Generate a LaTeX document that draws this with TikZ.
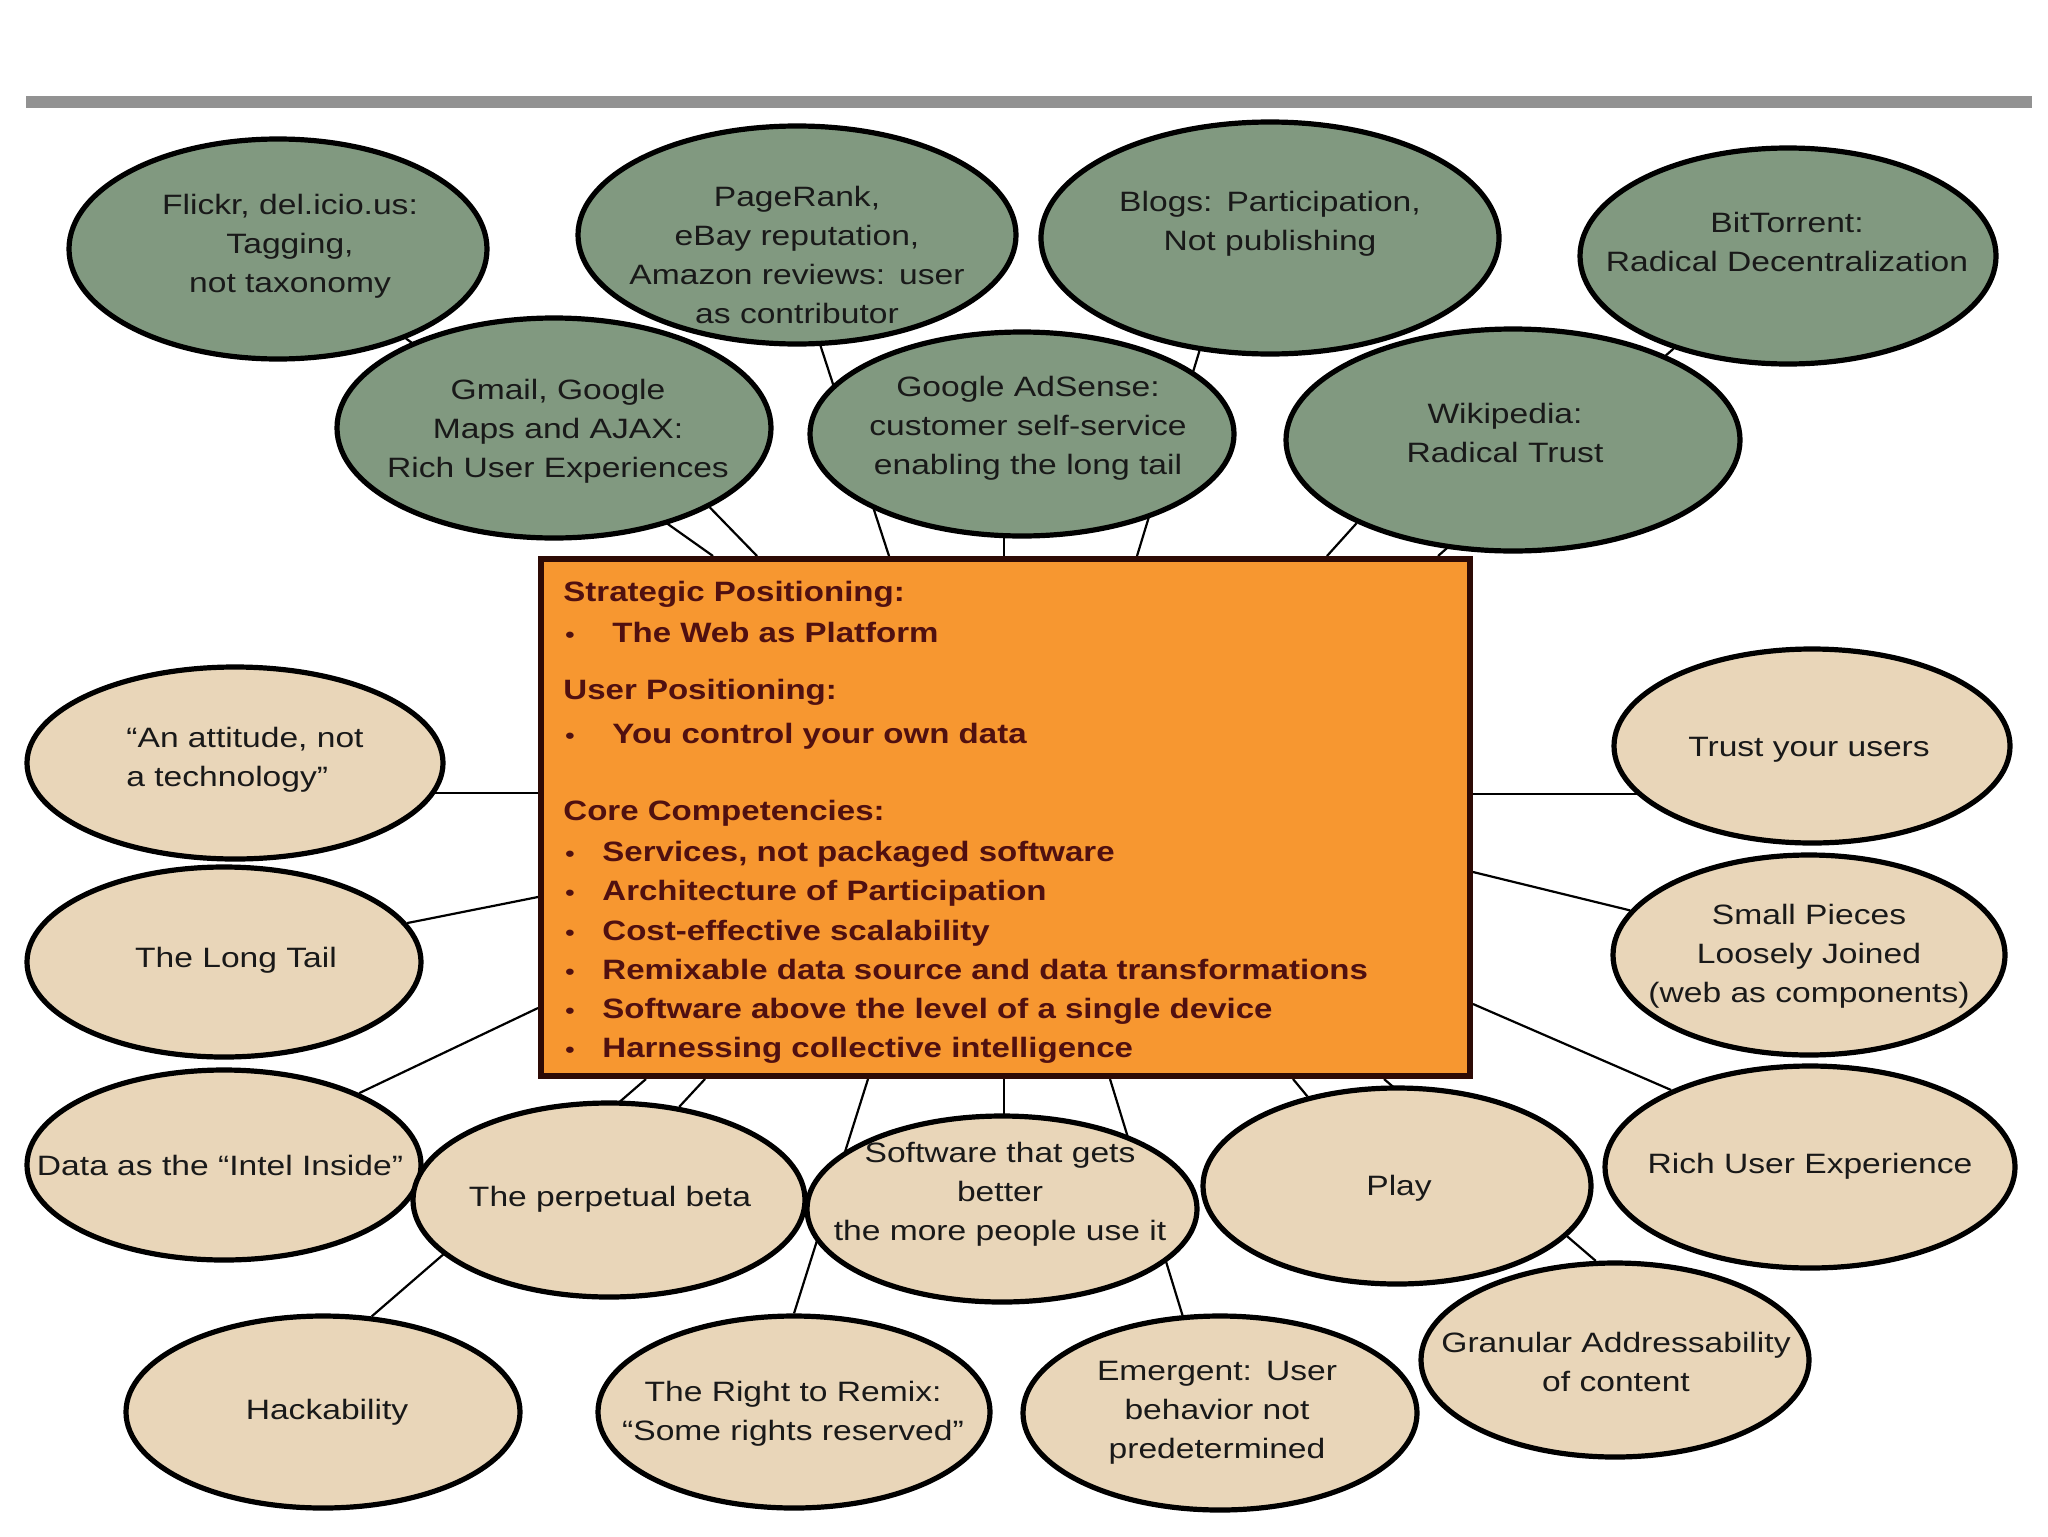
\documentclass[tikz,border=0pt]{standalone}
\usepackage{fontspec}
\setmainfont{Liberation Sans}[FakeStretch=1.2]
\newfontfamily\boxfont{Liberation Sans}[FakeStretch=1.18]
\usetikzlibrary{shapes.geometric,backgrounds}
\definecolor{gfill}{RGB}{129,153,128}
\definecolor{bfill}{RGB}{233,214,185}
\definecolor{ofill}{RGB}{247,151,48}
\definecolor{obord}{RGB}{45,10,5}
\definecolor{otext}{RGB}{80,16,16}
\definecolor{barcol}{RGB}{146,146,146}
\begin{document}
\begin{tikzpicture}[x=0.5pt,y=-0.5pt,
  ell/.style={ellipse, draw=black, line width=2.6pt, inner sep=0pt},
  gell/.style={ell, fill=gfill},
  bell/.style={ell, fill=bfill},
  etxt/.style={align=center, font=\fontsize{14}{19.5}\selectfont, text=black!90, inner sep=0pt},
  btxt/.style={anchor=base west, font=\boxfont\fontsize{14}{19.5}\selectfont\bfseries, text=otext, inner sep=0pt},
  bul/.style={anchor=base west, font=\fontsize{11}{12}\selectfont\bfseries, text=otext, inner sep=0pt},
  conn/.style={draw=black, line width=1.1pt}]
\useasboundingbox (0,0) rectangle (2048,1536);
\begin{scope}[on background layer]
  \fill[white] (0,0) rectangle (2048,1536);
\end{scope}
% top bar
\fill[barcol] (26,96) rectangle (2032,108);

% central box
\node[draw=obord, fill=ofill, line width=3pt, minimum width=464.5pt, minimum height=258.5pt, inner sep=0pt] (core) at (1005.5,817.5) {};
\node[btxt] (h1) at (563,601) {Strategic Positioning:};
\node[bul] (b1) at (565,642) {\textbullet};
\node[btxt] (i1) at (612,642) {The Web as Platform};
\node[btxt] (h2) at (563,699) {User Positioning:};
\node[bul] (b2) at (565,743) {\textbullet};
\node[btxt] (i2) at (612,743) {You control your own data};
\node[btxt] (h3) at (563,820) {Core Competencies:};
\node[bul] (b3) at (565,861) {\textbullet};
\node[btxt] (i3) at (602,861) {Services, not packaged software};
\node[bul] (b4) at (565,900) {\textbullet};
\node[btxt] (i4) at (602,900) {Architecture of Participation};
\node[bul] (b5) at (565,940) {\textbullet};
\node[btxt] (i5) at (602,940) {Cost-effective scalability};
\node[bul] (b6) at (565,979) {\textbullet};
\node[btxt] (i6) at (602,979) {Remixable data source and data transformations};
\node[bul] (b7) at (565,1018) {\textbullet};
\node[btxt] (i7) at (602,1018) {Software above the level of a single device};
\node[bul] (b8) at (565,1057) {\textbullet};
\node[btxt] (i8) at (602,1057) {Harnessing collective intelligence};

% green ellipses
\node[gell, minimum width=209pt, minimum height=110pt] (flickr) at (278,249) {};
\node[etxt] (tflickr) at (290,246) {Flickr, del.icio.us:\\Tagging,\\not taxonomy};
\node[gell, minimum width=219pt, minimum height=109pt] (pagerank) at (797,235) {};
\node[etxt] (tpagerank) at (797,255) {PageRank,\\eBay reputation,\\Amazon reviews:\ \,user\\as contributor};
\node[gell, minimum width=229pt, minimum height=116pt] (blogs) at (1270,238) {};
\node[etxt] (tblogs) at (1270,224) {Blogs:\ \,Participation,\\Not publishing};
\node[gell, minimum width=208pt, minimum height=108pt] (bittorrent) at (1788,256) {};
\node[etxt] (tbittorrent) at (1787,242) {BitTorrent:\\Radical Decentralization};
\node[gell, minimum width=217pt, minimum height=110pt] (gmail) at (554,428) {};
\node[etxt] (tgmail) at (558,431) {Gmail, Google\\Maps and AJAX:\\Rich User Experiences};
\node[gell, minimum width=212pt, minimum height=102pt] (adsense) at (1022,434) {};
\node[etxt] (tadsense) at (1028,428) {Google AdSense:\\customer self-service\\enabling the long tail};
\node[gell, minimum width=227pt, minimum height=111pt] (wiki) at (1513,440) {};
\node[etxt] (twiki) at (1505,433) {Wikipedia:\\Radical Trust};

% beige ellipses, left
\node[bell, minimum width=208pt, minimum height=96pt] (attitude) at (235,763) {};
\node[etxt, align=left, anchor=west] (tattitude) at (126,760) {“An attitude, not\\a technology”};
\node[bell, minimum width=197pt, minimum height=95pt] (longtail) at (224,962) {};
\node[etxt] (tlongtail) at (236,960) {The Long Tail};
\node[bell, minimum width=197pt, minimum height=95pt] (data) at (224,1165) {};
\node[etxt] (tdata) at (220,1165) {Data as the “Intel Inside”};

% beige ellipses, right
\node[bell, minimum width=198pt, minimum height=97pt] (trust) at (1812,746) {};
\node[etxt] (ttrust) at (1809,750) {Trust your users};
\node[bell, minimum width=196pt, minimum height=100pt] (small) at (1809,955) {};
\node[etxt] (tsmall) at (1809,956) {Small Pieces\\Loosely Joined\\(web as components)};
\node[bell, minimum width=205pt, minimum height=101pt] (richue) at (1810,1167) {};
\node[etxt] (trichue) at (1810,1166) {Rich User Experience};

% beige ellipses, bottom middle
\node[bell, minimum width=196pt, minimum height=97pt] (beta) at (609,1200) {};
\node[etxt] (tbeta) at (610,1199) {The perpetual beta};
\node[bell, minimum width=195pt, minimum height=93pt] (software) at (1002,1209) {};
\node[etxt] (tsoftware) at (1000,1194) {Software that gets\\better\\the more people use it};
\node[bell, minimum width=194pt, minimum height=98pt] (play) at (1397,1186) {};
\node[etxt] (tplay) at (1399,1188) {Play};

% beige ellipses, bottom row
\node[bell, minimum width=197pt, minimum height=96pt] (hack) at (323,1412) {};
\node[etxt] (thack) at (327,1412) {Hackability};
\node[bell, minimum width=196pt, minimum height=96pt] (remix) at (794,1412) {};
\node[etxt] (tremix) at (793,1414) {The Right to Remix:\\“Some rights reserved”};
\node[bell, minimum width=197pt, minimum height=97pt] (emergent) at (1220,1413) {};
\node[etxt] (temergent) at (1217,1413) {Emergent:\ \,User\\behavior not\\predetermined};
\node[bell, minimum width=194pt, minimum height=97pt] (granular) at (1615,1360) {};
\node[etxt] (tgranular) at (1616,1362) {Granular Addressability\\of content};

% connector end points on the box edge
\coordinate (c1) at (713,556);
\coordinate (c2) at (757,556);
\coordinate (c3) at (889,556);
\coordinate (c4) at (1004,556);
\coordinate (c5) at (1137,556);
\coordinate (c6) at (1327,556);
\coordinate (c7) at (1438,556);
\coordinate (c8) at (538,793);
\coordinate (c9) at (538,897);
\coordinate (c10) at (538,1008);
\coordinate (c11) at (1473,794);
\coordinate (c12) at (1473,872);
\coordinate (c13) at (1473,1004);
\coordinate (c14) at (646,1079);
\coordinate (c15) at (705,1079);
\coordinate (c16) at (868,1079);
\coordinate (c17) at (1004,1079);
\coordinate (c18) at (1110,1079);
\coordinate (c19) at (1293,1079);
\coordinate (c20) at (1384,1079);

\begin{scope}[on background layer]
  \draw[conn] (c1) -- (flickr.325);
  \draw[conn] (c2) -- (gmail.333);
  \draw[conn] (c3) -- (pagerank.282);
  \draw[conn] (c4) -- (c4 |- adsense.center);
  \draw[conn] (c5) -- (blogs.238);
  \draw[conn] (c6) -- (wiki.208);
  \draw[conn] (c7) -- (bittorrent.219);
  \draw[conn] (c8) -- (c8 -| attitude.center);
  \draw[conn] (c9) -- (longtail.12);
  \draw[conn] (c10) -- (data.28);
  \draw[conn] (c11) -- (c11 -| trust.center);
  \draw[conn] (c12) -- (small.166);
  \draw[conn] (c13) -- (richue.151);
  \draw[conn] (c14) -- (hack.63);
  \draw[conn] (c15) -- (beta.53);
  \draw[conn] (c16) -- (remix.90);
  \draw[conn] (c17) -- (c17 |- software.center);
  \draw[conn] (c18) -- (emergent.111);
  \draw[conn] (c19) -- (play.135);
  \draw[conn] (c20) -- (granular.101);
\end{scope}
\end{tikzpicture}
\end{document}
